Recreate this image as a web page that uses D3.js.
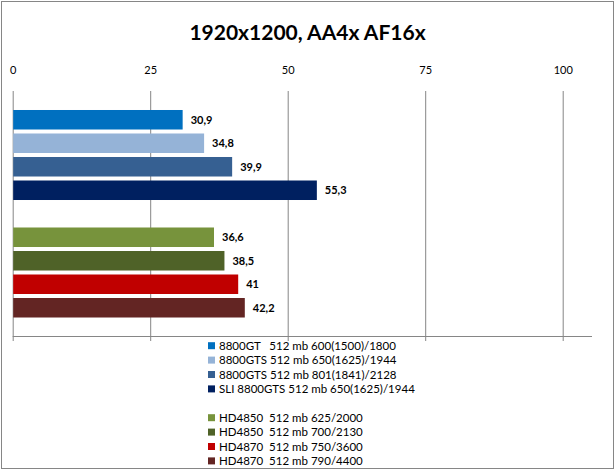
<!DOCTYPE html>
<html lang="en">
<head>
  <meta charset="UTF-8">
  <title>1920x1200, AA4x AF16x</title>
  <style>
    body { margin: 0; background: #fff; }
    svg { display: block; font-family: Lato, "Noto Sans", sans-serif; }
  </style>
</head>
<body>
<svg width="615" height="470"></svg>

<script src="https://cdn.jsdelivr.net/npm/d3@7/dist/d3.min.js"></script>
<script>
  // data; the empty entry is the spacer between the two groups
  var seriesNames = [
    '8800GT   512 mb 600(1500)/1800',
    '8800GTS 512 mb 650(1625)/1944',
    '8800GTS 512 mb 801(1841)/2128',
    'SLI 8800GTS 512 mb 650(1625)/1944',
    '',
    'HD4850  512 mb 625/2000',
    'HD4850  512 mb 700/2130',
    'HD4870  512 mb 750/3600',
    'HD4870  512 mb 790/4400'
  ];
  var seriesValues = [30.9, 34.8, 39.9, 55.3, null, 36.6, 38.5, 41, 42.2];
  var seriesColors = ['#0070c0', '#95b3d7', '#366092', '#002060', null,
                      '#77933c', '#4f6228', '#c00000', '#632523'];
  var tickValues = [0, 25, 50, 75, 100];

  var svg = d3.select('svg'), width = +svg.attr('width'), height = +svg.attr('height');
  var plot = {left: 12.7, right: 592, top: 91, bottom: 336};

  // outer chart border
  svg.append('rect').attr('x', 1.5).attr('y', 1.5)
    .attr('width', width - 3).attr('height', height - 3)
    .attr('fill', '#fff').attr('stroke', '#868686');

  svg.append('text').attr('x', width / 2).attr('y', 40)
    .attr('text-anchor', 'middle').attr('font-size', 21).attr('font-weight', 'bold')
    .text('1920x1200, AA4x AF16x');

  var x = d3.scaleLinear().domain([0, 100]).range([plot.left, 562.7]);
  var y = d3.scaleBand().domain(d3.range(seriesValues.length))
    .range([108, 319.5]).paddingInner(0.17).paddingOuter(0.085);

  // gridlines (they run a little past the bottom line as tick marks)
  svg.append('g').selectAll('line').data(tickValues).enter().append('line')
    .attr('x1', function (d) { return x(d) + 0.5; }).attr('x2', function (d) { return x(d) + 0.5; })
    .attr('y1', plot.top).attr('y2', plot.bottom + 5)
    .attr('stroke', '#868686');

  svg.append('line').attr('x1', plot.left).attr('x2', plot.right)
    .attr('y1', plot.bottom + 0.5).attr('y2', plot.bottom + 0.5).attr('stroke', '#868686');

  // value axis labels on top
  var axis = svg.append('g').attr('transform', 'translate(0,' + 74 + ')')
    .call(d3.axisTop(x).tickValues(tickValues).tickSize(0).tickPadding(0));
  axis.select('.domain').remove();
  axis.selectAll('text').attr('font-size', 11).attr('fill', '#000')
    .attr('font-family', 'Lato, "Noto Sans", sans-serif');

  var bars = seriesValues.map(function (v, i) { return {i: i, v: v}; })
    .filter(function (d) { return d.v !== null; });

  svg.append('g').selectAll('rect').data(bars).enter().append('rect')
    .attr('x', x(0) + 0.5).attr('y', function (d) { return y(d.i); })
    .attr('width', function (d) { return x(d.v) - x(0) - 0.5; })
    .attr('height', y.bandwidth())
    .attr('fill', function (d) { return seriesColors[d.i]; });

  svg.append('g').selectAll('text').data(bars).enter().append('text')
    .attr('x', function (d) { return x(d.v) + 8; })
    .attr('y', function (d) { return y(d.i) + y.bandwidth() / 2; })
    .attr('dy', '0.35em').attr('font-size', 11).attr('font-weight', 'bold')
    .text(function (d) { return String(d.v).replace('.', ','); });

  // legend
  var legend = svg.append('g').selectAll('g').data(seriesNames).enter().append('g')
    .attr('transform', function (d, i) { return 'translate(208,' + (345.7 + i * 14.4) + ')'; });
  legend.filter(function (d, i) { return seriesColors[i]; }).append('rect')
    .attr('x', 0).attr('y', -3.5).attr('width', 7).attr('height', 7)
    .attr('fill', function (d) { return seriesColors[seriesNames.indexOf(d)]; });
  legend.append('text').attr('x', 11).attr('dy', '0.35em')
    .attr('font-size', 11.5).style('white-space', 'pre')
    .text(function (d) { return d; });
</script>
</body>
</html>
